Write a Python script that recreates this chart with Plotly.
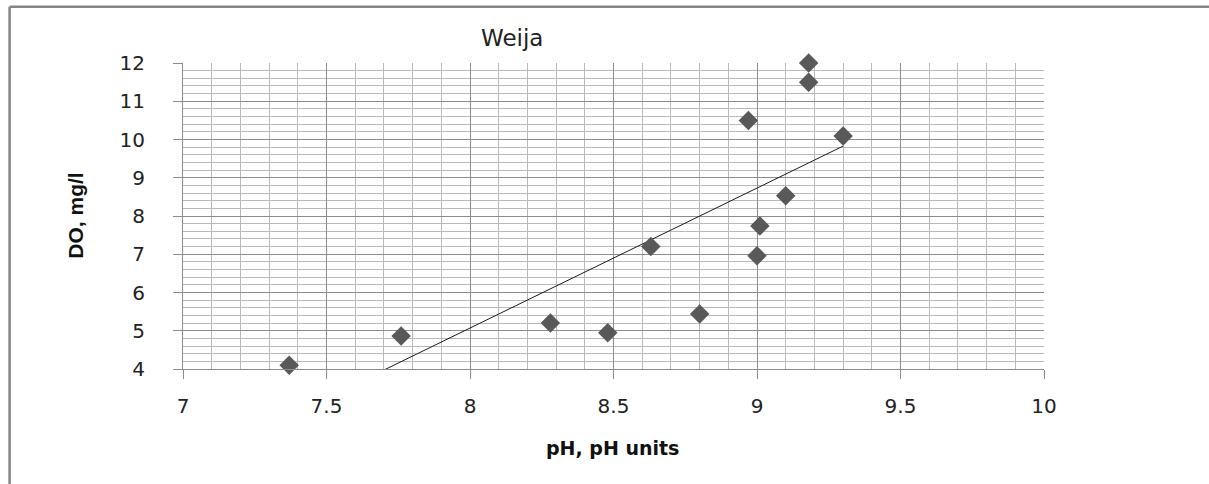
import numpy as np
import plotly.graph_objects as go

# Weija reservoir: pH against dissolved oxygen
ph_units = [7.37, 7.76, 8.28, 8.48, 8.63, 8.80, 8.97, 9.18, 9.18, 9.30, 9.10, 9.01, 9.00]
do_mg_l = [4.10, 4.86, 5.20, 4.95, 7.20, 5.44, 10.50, 12.00, 11.50, 10.09, 8.53, 7.74, 6.96]

x_tick_vals = [7, 7.5, 8, 8.5, 9, 9.5, 10]
x_tick_text = ["7", "7.5", "8", "8.5", "9", "9.5", "10"]
y_tick_vals = [4, 5, 6, 7, 8, 9, 10, 11, 12]
y_tick_text = ["4", "5", "6", "7", "8", "9", "10", "11", "12"]

# least-squares linear trend
slope, intercept = np.polyfit(ph_units, do_mg_l, 1)
trend_x = [min(ph_units), max(ph_units)]
trend_y = [slope * v + intercept for v in trend_x]

W, H = 1209, 484
ML, MR, MT, MB = 182.5, 165, 62.7, 115


def px_to_paper(px, py):
    return (px - ML) / (W - ML - MR), 1 - (py - MT) / (H - MT - MB)


fig = go.Figure()
fig.add_trace(go.Scatter(
    x=trend_x, y=trend_y, mode="lines",
    line=dict(color="#1a1a1a", width=1),
    hoverinfo="skip", showlegend=False,
))
fig.add_trace(go.Scatter(
    x=ph_units, y=do_mg_l, mode="markers",
    marker=dict(symbol="diamond", size=15, color="#595959",
                line=dict(width=0)),
    cliponaxis=False, showlegend=False,
))

tick_font = dict(family="DejaVu Sans, Verdana, sans-serif", size=20, color="#222222")

fig.update_xaxes(
    range=[7, 10], tickvals=x_tick_vals, ticktext=x_tick_text,
    showgrid=True, gridcolor="#8c8c8c", gridwidth=1,
    minor=dict(dtick=0.1, tick0=7, showgrid=True, gridcolor="#b9b9b9", gridwidth=1),
    ticks="outside", ticklen=9, tickcolor="#8c8c8c", tickwidth=1,
    showline=True, linecolor="#8c8c8c", linewidth=1,
    zeroline=False, tickfont=tick_font, ticklabelstandoff=10,
)
fig.update_yaxes(
    range=[4, 12], tickvals=y_tick_vals, ticktext=y_tick_text,
    showgrid=True, gridcolor="#8c8c8c", gridwidth=1,
    minor=dict(dtick=0.2, tick0=4, showgrid=True, gridcolor="#b9b9b9", gridwidth=1),
    ticks="outside", ticklen=9, tickcolor="#8c8c8c", tickwidth=1,
    showline=True, linecolor="#8c8c8c", linewidth=1,
    zeroline=False, tickfont=tick_font, ticklabelstandoff=24,
)

annotations = []
tx, ty = px_to_paper(512, 38)
annotations.append(dict(text="Weija", x=tx, y=ty, xref="paper", yref="paper",
                        showarrow=False, xanchor="center", yanchor="middle",
                        font=dict(family="DejaVu Sans, Verdana, sans-serif", size=23,
                                  color="#222222")))
ax_x, ax_y = px_to_paper(612.5, 448)
annotations.append(dict(text="<b>pH, pH units</b>", x=ax_x, y=ax_y, xref="paper", yref="paper",
                        showarrow=False, xanchor="center", yanchor="middle",
                        font=dict(family="DejaVu Sans, Verdana, sans-serif", size=19,
                                  color="#111111")))
ay_x, ay_y = px_to_paper(75, 216)
annotations.append(dict(text="<b>DO, mg/l</b>", x=ay_x, y=ay_y, xref="paper", yref="paper",
                        showarrow=False, xanchor="center", yanchor="middle", textangle=-90,
                        font=dict(family="Liberation Sans, Arial, sans-serif",
                                  size=21, color="#111111")))

# outer chart frame (only top and left edges fall inside the page)
fl, ft = px_to_paper(9, 6.5)
fr, fb = px_to_paper(W + 20, H + 20)
shapes = [
    dict(type="line", xref="paper", yref="paper", x0=fl, y0=ft, x1=fr, y1=ft,
         line=dict(color="#868686", width=2.5)),
    dict(type="line", xref="paper", yref="paper", x0=fl, y0=ft, x1=fl, y1=fb,
         line=dict(color="#868686", width=2.5)),
]

fig.update_layout(
    width=W, height=H,
    margin=dict(l=ML, r=MR, t=MT, b=MB, pad=0),
    paper_bgcolor="white", plot_bgcolor="white",
    annotations=annotations, shapes=shapes,
    showlegend=False,
)

fig.write_html("out.html")
